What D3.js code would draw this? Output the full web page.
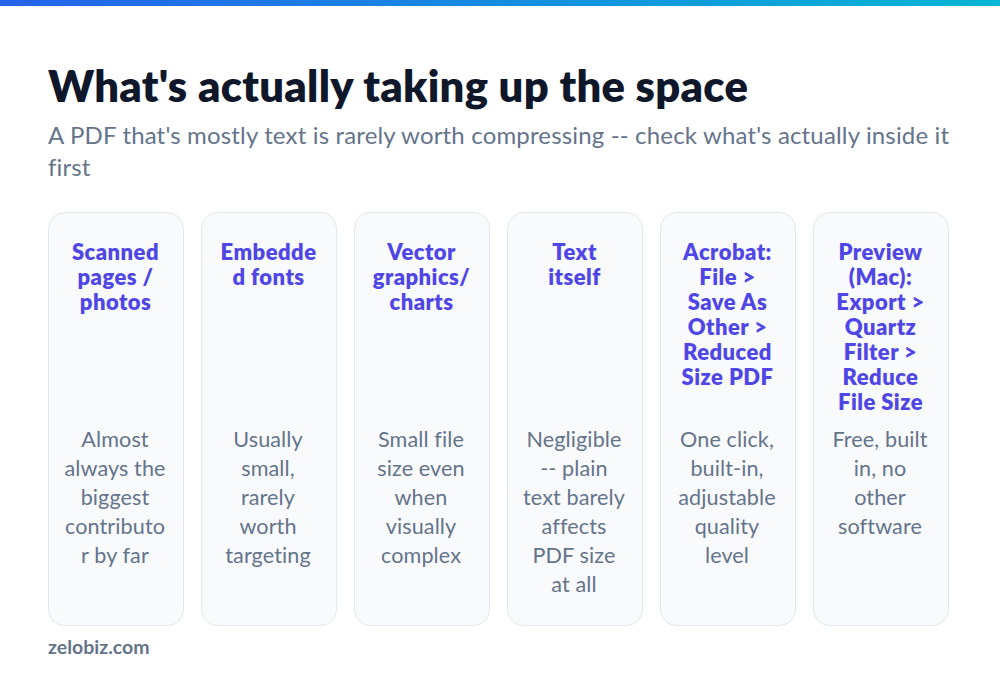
<!DOCTYPE html>
<html><head><meta charset="utf-8">
<script src="https://cdn.jsdelivr.net/npm/d3@7"></script>
<style>html,body{margin:0;padding:0;background:#fff;overflow:hidden}</style>
</head><body><svg id="c" width="1000" height="679"></svg>
<script>
const titleText = "What's actually taking up the space";
const subtitleLines = ["A PDF that's mostly text is rarely worth compressing -- check what's actually inside it", "first"];
const headings = [
 ["Scanned","pages /","photos"],
 ["Embedde","d fonts"],
 ["Vector","graphics/","charts"],
 ["Text","itself"],
 ["Acrobat:","File >","Save As","Other >","Reduced","Size PDF"],
 ["Preview","(Mac):","Export >","Quartz","Filter >","Reduce","File Size"]];
const bodies = [
 ["Almost","always the","biggest","contributo","r by far"],
 ["Usually","small,","rarely","worth","targeting"],
 ["Small file","size even","when","visually","complex"],
 ["Negligible","-- plain","text barely","affects","PDF size","at all"],
 ["One click,","built-in,","adjustable","quality","level"],
 ["Free, built","in, no","other","software"]];
const footer = "zelobiz.com";
const font = "Lato, sans-serif";
const svg = d3.select("#c");
const defs = svg.append("defs");
const g = defs.append("linearGradient").attr("id","bar");
g.append("stop").attr("offset","0").attr("stop-color","#2563eb");
g.append("stop").attr("offset","1").attr("stop-color","#06b6d4");
svg.append("rect").attr("width",1000).attr("height",6).attr("fill","url(#bar)");
svg.append("text").attr("x",48).attr("y",102).attr("font-family",font).attr("font-weight",800).attr("font-size",43.5).attr("letter-spacing",0.3).attr("fill","#0f172a").text(titleText);
svg.selectAll("text.sub").data(subtitleLines).join("text").attr("class","sub").attr("x",48).attr("y",(d,i)=>144+i*32).attr("font-family",font).attr("font-size",24).attr("letter-spacing",0.16).attr("fill","#64748b").text(d=>d);
const step = 153, w = 136;
const cards = svg.selectAll("g.card").data(headings).join("g").attr("class","card").attr("transform",(d,i)=>`translate(${48+i*step},212)`);
cards.append("rect").attr("x",.5).attr("y",.5).attr("width",w-1).attr("height",413).attr("rx",16).attr("fill","#f8fafc").attr("stroke","#e2e8f0");
cards.each(function(d,i){
  const c=d3.select(this);
  c.selectAll("text.h").data(d).join("text").attr("class","h").attr("x",w/2-0.5).attr("y",(t,j)=>48+j*25).attr("text-anchor","middle").attr("font-family",font).attr("font-weight",800).attr("font-size",22).attr("letter-spacing",0.45).attr("fill","#4f46e5").text(t=>t);
  c.selectAll("text.b").data(bodies[i]).join("text").attr("class","b").attr("x",w/2-1).attr("y",(t,j)=>235+j*29).attr("text-anchor","middle").attr("font-family",font).attr("font-size",21.6).attr("letter-spacing",0.1).attr("fill","#64748b").text(t=>t);
});
svg.append("text").attr("x",48).attr("y",654).attr("font-family",font).attr("font-weight",700).attr("font-size",19.5).attr("fill","#64748b").text(footer);
</script></body></html>
